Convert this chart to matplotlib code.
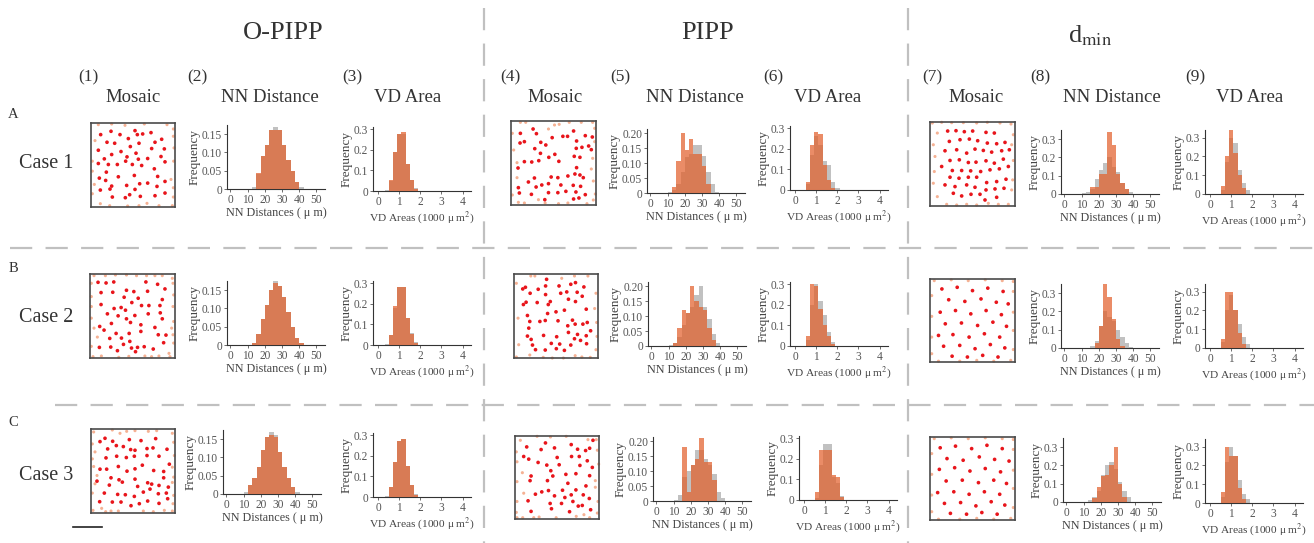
import matplotlib
matplotlib.use("Agg")
import matplotlib.pyplot as plt
from matplotlib.lines import Line2D

plt.rcParams['font.family'] = ['Liberation Serif', 'DejaVu Serif']
plt.rcParams['mathtext.fontset'] = 'stix'

W, H = 1314, 543
fig = plt.figure(figsize=(W / 100, H / 100), dpi=100)

# ---------------- data ----------------
group_titles = ["O-PIPP", "PIPP", r"d$_{\rm min}$"]
col_numbers = ["(1)", "(2)", "(3)", "(4)", "(5)", "(6)", "(7)", "(8)", "(9)"]
col_names = ["Mosaic", "NN Distance", "VD Area"] * 3
row_letters = ["A", "B", "C"]
row_cases = ["Case 1", "Case 2", "Case 3"]

nn_bin_left = [10.0, 12.5, 15.0, 17.5, 20.0, 22.5, 25.0, 27.5, 30.0, 32.5, 35.0, 37.5, 40.0]
nn_bin_width = 2.5
vd_bin_left = [0.3, 0.5, 0.7, 0.9, 1.1, 1.3, 1.5, 1.7, 1.9, 2.1]
vd_bin_width = 0.2

nn_xticks = [0, 10, 20, 30, 40, 50]
vd_xticks = [0, 1, 2, 3, 4]
nn_yticks_opipp = [0, 0.05, 0.10, 0.15]
nn_ylabels_opipp = ["0", "0.05", "0.10", "0.15"]
nn_yticks_pipp = [0, 0.05, 0.10, 0.15, 0.20]
nn_ylabels_pipp = ["0", "0.05", "0.10", "0.15", "0.20"]
nn_yticks_dmin = [0, 0.1, 0.2, 0.3]
nn_ylabels_dmin = ["0", "0.1", "0.2", "0.3"]
vd_yticks = [0, 0.1, 0.2, 0.3]
vd_ylabels = ["0", "0.1", "0.2", "0.3"]

# NN distance histograms (gray = reference, orange = simulated)
nn_gray_opipp_A = [0, 0.005, 0.04, 0.09, 0.12, 0.16, 0.17, 0.16, 0.12, 0.08, 0.05, 0.02, 0.005]
nn_orng_opipp_A = [0, 0, 0.045, 0.09, 0.12, 0.16, 0.16, 0.16, 0.12, 0.08, 0.05, 0.02, 0]
nn_gray_opipp_B = [0, 0.005, 0.03, 0.07, 0.11, 0.15, 0.175, 0.16, 0.13, 0.09, 0.05, 0.02, 0.005]
nn_orng_opipp_B = [0, 0.005, 0.03, 0.07, 0.11, 0.15, 0.17, 0.16, 0.13, 0.09, 0.05, 0.02, 0.005]
nn_gray_opipp_C = [0.005, 0.025, 0.045, 0.075, 0.12, 0.155, 0.17, 0.16, 0.115, 0.075, 0.045, 0.02, 0.005]
nn_orng_opipp_C = [0, 0.025, 0.045, 0.075, 0.12, 0.155, 0.16, 0.155, 0.115, 0.075, 0.045, 0.02, 0]

nn_gray_pipp_A = [0.005, 0.01, 0.03, 0.07, 0.12, 0.13, 0.16, 0.16, 0.125, 0.07, 0.03, 0.005, 0]
nn_orng_pipp_A = [0, 0.02, 0.108, 0.20, 0.143, 0.18, 0.13, 0.13, 0.09, 0.03, 0, 0, 0]
nn_gray_pipp_B = [0.005, 0.01, 0.03, 0.07, 0.11, 0.13, 0.17, 0.20, 0.13, 0.09, 0.04, 0.01, 0]
nn_orng_pipp_B = [0, 0.01, 0.06, 0.12, 0.11, 0.20, 0.15, 0.13, 0.12, 0.06, 0.02, 0, 0]
nn_gray_pipp_C = [0.005, 0.02, 0.08, 0.10, 0.12, 0.17, 0.17, 0.14, 0.12, 0.09, 0.03, 0.01, 0]
nn_orng_pipp_C = [0, 0, 0.18, 0.03, 0.12, 0.14, 0.21, 0.13, 0.13, 0.07, 0, 0, 0]

nn_gray_dmin_A = [0.005, 0.01, 0.03, 0.08, 0.13, 0.17, 0.20, 0.15, 0.12, 0.06, 0.03, 0.01, 0]
nn_orng_dmin_A = [0, 0, 0.04, 0.04, 0.11, 0.11, 0.34, 0.27, 0.11, 0.06, 0.03, 0, 0]
nn_gray_dmin_B = [0, 0, 0.01, 0.04, 0.12, 0.20, 0.17, 0.15, 0.10, 0.06, 0.03, 0.005, 0]
nn_orng_dmin_B = [0, 0, 0, 0.03, 0.12, 0.35, 0.28, 0.16, 0.05, 0.01, 0, 0, 0]
nn_gray_dmin_C = [0, 0.01, 0.03, 0.06, 0.15, 0.20, 0.22, 0.18, 0.11, 0.06, 0.03, 0, 0]
nn_orng_dmin_C = [0, 0, 0.02, 0.08, 0.14, 0.15, 0.20, 0.30, 0.10, 0.03, 0, 0, 0]

# VD area histograms
vd_gray_opipp_A = [0.005, 0.05, 0.19, 0.275, 0.275, 0.13, 0.055, 0.015, 0, 0]
vd_orng_opipp_A = [0, 0.055, 0.19, 0.275, 0.287, 0.13, 0.055, 0.01, 0, 0]
vd_gray_opipp_B = [0.005, 0.05, 0.18, 0.28, 0.28, 0.13, 0.06, 0.015, 0, 0]
vd_orng_opipp_B = [0, 0.05, 0.19, 0.28, 0.28, 0.13, 0.055, 0.01, 0, 0]
vd_gray_opipp_C = [0.005, 0.05, 0.17, 0.27, 0.28, 0.15, 0.06, 0.015, 0, 0]
vd_orng_opipp_C = [0, 0.05, 0.17, 0.27, 0.28, 0.15, 0.06, 0.01, 0, 0]

vd_gray_pipp_A = [0, 0.03, 0.17, 0.26, 0.22, 0.14, 0.12, 0.04, 0.01, 0]
vd_orng_pipp_A = [0, 0.04, 0.22, 0.28, 0.27, 0.12, 0.05, 0.01, 0, 0]
vd_gray_pipp_B = [0, 0.03, 0.20, 0.30, 0.22, 0.15, 0.07, 0.02, 0, 0]
vd_orng_pipp_B = [0, 0.05, 0.30, 0.29, 0.18, 0.10, 0.05, 0.01, 0, 0]
vd_gray_pipp_C = [0, 0.01, 0.17, 0.27, 0.27, 0.11, 0.08, 0.02, 0, 0]
vd_orng_pipp_C = [0, 0.04, 0.24, 0.24, 0.24, 0.12, 0.11, 0.015, 0, 0]

vd_gray_dmin_A = [0, 0.02, 0.17, 0.30, 0.27, 0.13, 0.06, 0.02, 0, 0]
vd_orng_dmin_A = [0, 0.04, 0.20, 0.34, 0.22, 0.10, 0.03, 0, 0, 0]
vd_gray_dmin_B = [0, 0.03, 0.20, 0.28, 0.20, 0.13, 0.06, 0.02, 0, 0]
vd_orng_dmin_B = [0, 0.05, 0.30, 0.30, 0.20, 0.08, 0.02, 0, 0, 0]
vd_gray_dmin_C = [0, 0.03, 0.22, 0.30, 0.25, 0.12, 0.05, 0.02, 0, 0]
vd_orng_dmin_C = [0, 0.06, 0.30, 0.25, 0.25, 0.08, 0.02, 0, 0, 0]

# Mosaic cell positions (read in picture units of each mosaic frame)
mos1_red_x = [47, 78, 105, 150, 157, 173, 198, 130, 230, 66, 89, 162, 210, 40, 108, 136, 200, 238, 80, 153, 58, 126, 160, 188, 228, 40, 97, 122, 142, 170, 240, 70, 64, 208, 43, 62, 100, 148, 218, 240, 80, 75, 125, 164, 188, 216, 46, 150, 240, 82, 121, 134, 166, 210]
mos1_red_y = [50, 40, 50, 38, 50, 48, 44, 62, 64, 73, 76, 76, 73, 97, 101, 86, 92, 93, 110, 106, 123, 117, 124, 122, 116, 137, 140, 130, 140, 143, 132, 140, 163, 153, 181, 188, 177, 173, 176, 191, 205, 214, 203, 198, 196, 206, 217, 215, 226, 238, 240, 231, 236, 234]
mos1_pale_x = [40, 80, 120, 178, 246, 265, 30, 22, 22, 28, 22, 265, 267, 266, 258, 265, 265, 46, 74, 128, 162, 186, 222, 262]
mos1_pale_y = [20, 18, 22, 18, 20, 33, 68, 130, 160, 200, 228, 55, 90, 130, 185, 210, 238, 258, 264, 265, 264, 257, 264, 264]

mos2_red_x = [40, 64, 87, 183, 218, 125, 147, 188, 240, 49, 84, 118, 160, 232, 49, 141, 170, 192, 225, 88, 109, 122, 68, 100, 150, 190, 226, 232, 125, 80, 137, 168, 210, 45, 58, 94, 133, 168, 220, 243, 75, 110, 135, 236, 116, 44, 78, 98, 140, 158, 178, 205, 152]
mos2_red_y = [42, 44, 41, 41, 48, 66, 70, 69, 62, 73, 72, 87, 90, 94, 109, 103, 112, 112, 112, 121, 118, 126, 137, 143, 142, 137, 134, 152, 152, 166, 163, 170, 178, 175, 186, 196, 196, 190, 200, 201, 211, 210, 220, 224, 229, 238, 237, 248, 240, 238, 236, 243, 251]
mos2_pale_x = [28, 62, 92, 125, 155, 185, 210, 232, 262, 20, 20, 20, 20, 28, 38, 20, 264, 266, 264, 266, 260, 264, 266, 252, 25, 50, 102, 132, 180, 200, 222, 255]
mos2_pale_y = [22, 22, 20, 20, 22, 22, 22, 22, 30, 45, 85, 115, 150, 180, 207, 235, 45, 80, 115, 160, 180, 200, 225, 256, 266, 264, 268, 265, 264, 266, 264, 266]

mos3_red_x = [45, 60, 83, 133, 168, 212, 68, 94, 115, 137, 150, 186, 204, 246, 63, 95, 124, 148, 186, 222, 253, 100, 172, 45, 65, 126, 150, 206, 236, 78, 102, 112, 150, 188, 200, 222, 236, 36, 73, 158, 250, 175, 195, 220, 244, 58, 98, 121, 148, 248, 44, 82, 108, 138, 163, 188, 222]
mos3_red_y = [53, 43, 52, 47, 50, 44, 75, 65, 68, 77, 79, 74, 72, 76, 102, 97, 101, 97, 95, 97, 121, 128, 124, 136, 136, 142, 135, 140, 143, 162, 168, 175, 166, 177, 181, 185, 162, 172, 184, 188, 190, 205, 196, 210, 208, 208, 212, 213, 218, 225, 234, 235, 235, 246, 240, 232, 239]
mos3_pale_x = [26, 82, 105, 125, 150, 190, 215, 262, 22, 30, 22, 26, 36, 30, 22, 266, 268, 262, 266, 262, 266, 264, 24, 50, 62, 78, 100, 175, 205, 238, 262]
mos3_pale_y = [24, 18, 28, 22, 20, 22, 20, 28, 60, 84, 105, 128, 155, 180, 208, 55, 95, 130, 160, 176, 215, 240, 260, 254, 264, 262, 262, 262, 264, 260, 262]

mos4_red_x = [46, 84, 94, 205, 58, 107, 122, 141, 173, 187, 240, 261, 45, 214, 89, 106, 213, 230, 250, 258, 131, 149, 58, 80, 101, 161, 207, 224, 39, 214, 138, 158, 188, 209, 224, 234, 88, 70, 93, 110, 130, 167, 204, 226, 40, 43, 79, 130, 158, 182, 212, 240, 119, 205, 221]
mos4_red_y = [55, 42, 56, 48, 80, 82, 90, 68, 64, 64, 62, 66, 84, 78, 101, 115, 100, 97, 93, 104, 127, 118, 140, 141, 137, 139, 124, 127, 159, 158, 186, 188, 183, 177, 180, 188, 189, 201, 216, 210, 206, 210, 211, 214, 218, 234, 238, 233, 233, 229, 231, 239, 254, 252, 249]
mos4_pale_x = [46, 62, 130, 148, 162, 192, 228, 262, 22, 26, 36, 36, 22, 40, 268, 268, 262, 258, 264, 270, 264, 58, 100, 120, 160, 188, 245]
mos4_pale_y = [22, 22, 42, 30, 28, 22, 22, 22, 55, 105, 143, 188, 240, 262, 40, 80, 130, 162, 198, 237, 255, 264, 254, 264, 266, 264, 266]

mos5_red_x = [125, 54, 62, 100, 122, 162, 197, 211, 236, 76, 122, 167, 185, 216, 231, 56, 64, 97, 130, 136, 190, 211, 153, 178, 243, 68, 128, 75, 105, 121, 159, 202, 210, 233, 246, 188, 72, 256, 190, 116, 68, 217, 243, 79, 155, 208, 226, 83, 139, 164, 197, 244, 92, 121, 154, 178]
mos5_red_y = [28, 57, 52, 58, 48, 48, 43, 38, 51, 70, 74, 70, 66, 67, 79, 104, 97, 98, 104, 95, 88, 95, 126, 121, 118, 137, 131, 155, 155, 152, 153, 151, 163, 163, 158, 168, 175, 183, 188, 197, 199, 194, 198, 209, 201, 207, 212, 226, 221, 223, 226, 222, 240, 241, 237, 242]
mos5_pale_x = [78, 90, 170, 208, 248, 35, 40, 42, 35, 272, 268, 274, 275, 272, 75, 115, 142, 175, 210, 230, 255]
mos5_pale_y = [18, 18, 25, 18, 18, 40, 145, 225, 262, 70, 116, 158, 200, 240, 256, 263, 265, 265, 258, 262, 263]

mos6_red_x = [113, 57, 100, 140, 190, 209, 233, 245, 255, 48, 63, 148, 191, 214, 238, 91, 117, 154, 216, 129, 253, 70, 135, 174, 204, 245, 67, 119, 180, 234, 102, 83, 122, 140, 164, 204, 171, 190, 226, 244, 61, 127, 161, 195, 211, 223, 131, 248, 70, 185]
mos6_red_y = [38, 50, 58, 53, 43, 57, 61, 54, 30, 79, 87, 82, 79, 79, 92, 97, 105, 104, 106, 122, 112, 138, 138, 133, 131, 137, 152, 152, 160, 168, 186, 193, 182, 198, 181, 180, 203, 195, 195, 206, 213, 221, 221, 215, 229, 227, 237, 240, 245, 246]
mos6_pale_x = [38, 88, 128, 175, 240, 265, 26, 28, 44, 28, 48, 28, 26, 268, 272, 262, 262, 270, 268, 28, 45, 78, 94, 145, 205, 228, 245]
mos6_pale_y = [30, 18, 20, 18, 28, 28, 65, 95, 128, 155, 190, 215, 248, 60, 102, 152, 172, 215, 250, 264, 264, 264, 262, 264, 260, 255, 264]

mos7_red_x = [143, 168, 193, 218, 258, 283, 148, 180, 208, 233, 262, 290, 315, 135, 170, 200, 225, 250, 275, 305, 328, 150, 178, 205, 228, 258, 283, 310, 125, 157, 185, 212, 242, 270, 298, 325, 150, 177, 205, 230, 260, 290, 318, 135, 165, 200, 225, 258, 285, 312, 160, 185, 213, 240, 290, 255]
mos7_red_y = [124, 123, 126, 124, 128, 130, 155, 150, 148, 153, 160, 162, 158, 183, 180, 190, 178, 182, 187, 183, 180, 212, 210, 218, 217, 213, 220, 208, 230, 242, 242, 243, 245, 240, 237, 230, 262, 265, 262, 262, 278, 275, 268, 285, 290, 285, 292, 300, 297, 295, 310, 318, 313, 313, 322, 330]
mos7_pale_x = [97, 125, 155, 190, 230, 262, 300, 333, 112, 100, 105, 103, 100, 112, 340, 335, 340, 338, 335, 140, 170, 200, 230, 265, 295, 325]
mos7_pale_y = [100, 98, 99, 99, 100, 98, 100, 103, 130, 165, 200, 245, 280, 320, 135, 165, 212, 270, 300, 343, 345, 343, 345, 340, 343, 343]

mos8_red_x = [14, 32, 50, 68, 86, 22, 41, 60, 78, 92, 12, 30, 48, 66, 84, 18, 37, 56, 74, 90, 10, 27, 46, 64, 82, 16, 35, 53, 71, 88, 26, 44, 62, 80]
mos8_red_y = [88, 90, 86, 89, 85, 75, 73, 76, 72, 70, 60, 62, 58, 62, 57, 46, 47, 44, 48, 43, 32, 33, 30, 34, 30, 19, 20, 16, 21, 17, 7, 6, 8, 6]
mos8_pale_x = [5, 25, 45, 65, 85, 98, 2, 2, 2, 2, 98, 98, 98, 98, 10, 35, 55, 75, 95]
mos8_pale_y = [98, 99, 98, 99, 98, 97, 80, 55, 30, 10, 85, 60, 38, 15, 1, 1, 2, 1, 2]

mos9_red_x = [12, 30, 49, 67, 85, 20, 39, 58, 76, 93, 11, 29, 47, 65, 83, 19, 38, 57, 75, 90, 9, 28, 46, 64, 82, 17, 36, 54, 72, 88, 24, 43, 61, 79]
mos9_red_y = [87, 89, 86, 90, 86, 74, 72, 76, 73, 71, 61, 63, 59, 62, 58, 47, 48, 45, 48, 44, 33, 34, 31, 34, 31, 20, 21, 17, 22, 18, 8, 7, 9, 7]
mos9_pale_x = [5, 25, 45, 65, 85, 98, 2, 2, 2, 2, 98, 98, 98, 98, 10, 35, 55, 75, 95]
mos9_pale_y = [98, 99, 98, 99, 98, 97, 80, 55, 30, 10, 85, 60, 38, 15, 1, 1, 2, 1, 2]

# ---------------- layout helpers ----------------
def px_ax(l, t, r, b):
    return fig.add_axes([l / W, 1 - b / H, (r - l) / W, (b - t) / H])

def ftext(x, y, s, **kw):
    fig.text(x / W, 1 - y / H, s, **kw)

TXT = "#333333"
GRAY = "#8f8f8f"
ORNG = "#e2602c"

def draw_mosaic(frame, limits, rx, ry, px, py):
    l, t, r, b = frame
    ax = px_ax(l, t, r, b)
    x0, x1, y0, y1 = limits
    ax.set_xlim(x0, x1)
    ax.set_ylim(y1, y0)
    ax.scatter(px, py, s=5, color="#f5b193", edgecolors="none", clip_on=False, zorder=2)
    ax.scatter(rx, ry, s=7, color="#e8151b", edgecolors="none", clip_on=False, zorder=3)
    ax.set_xticks([]); ax.set_yticks([])
    for sp in ax.spines.values():
        sp.set_color("#4a4a4a"); sp.set_linewidth(1.2)

def draw_hist(left, bottom, kind, gray, orng, ymax, yticks, ylabels):
    width = 98
    height = 64
    ax = px_ax(left, bottom - height, left + width, bottom)
    if kind == "nn":
        bins, bw = nn_bin_left, nn_bin_width
        ax.set_xlim(-2, 55)
        ax.set_xticks(nn_xticks)
        ax.set_xlabel("NN Distances ( \u03bc m)", fontsize=8.7, color="#444444", labelpad=1)
    else:
        bins, bw = vd_bin_left, vd_bin_width
        ax.set_xlim(-0.25, 4.4)
        ax.set_xticks(vd_xticks)
        ax.set_xlabel("VD Areas (1000 \u03bc m$^{2}$)", fontsize=8.2, color="#444444", labelpad=1)
    ax.bar(bins, gray, width=bw, align="edge", color=GRAY, alpha=0.55, linewidth=0, zorder=2)
    ax.bar(bins, orng, width=bw, align="edge", color=ORNG, alpha=0.72, linewidth=0, zorder=3)
    ax.set_ylim(0, ymax)
    ax.set_yticks(yticks)
    ax.set_yticklabels(ylabels)
    ax.set_ylabel("Frequency", fontsize=9.5, color="#444444", labelpad=1)
    for s in ("top", "right"):
        ax.spines[s].set_visible(False)
    for s in ("left", "bottom"):
        ax.spines[s].set_color("#333333"); ax.spines[s].set_linewidth(0.8)
    ax.tick_params(axis="both", labelsize=8.3, colors="#555555", length=2, width=0.6, pad=1.5)
    ax.set_facecolor("none")
    return ax

# ---------------- headers ----------------
ftext(283, 33, group_titles[0], fontsize=19, color=TXT, ha="center", va="center")
ftext(708, 33, group_titles[1], fontsize=19, color=TXT, ha="center", va="center")
ftext(1090, 36, group_titles[2], fontsize=19, color=TXT, ha="center", va="center")

num_x = [88, 197, 352, 510, 620, 773, 932, 1040, 1195]
name_x = [133, 270, 408, 555, 695, 828, 976, 1112, 1250]
for i in range(9):
    ftext(num_x[i], 77, col_numbers[i], fontsize=12.5, color=TXT, ha="center", va="center")
    ftext(name_x[i], 97, col_names[i], fontsize=13.5, color=TXT, ha="center", va="center")

letter_y = [115, 268, 422]
case_y = [163, 318, 475]
for i in range(3):
    ftext(13, letter_y[i], row_letters[i], fontsize=10.5, color=TXT, ha="center", va="center")
    ftext(46, case_y[i], row_cases[i], fontsize=14.5, color=TXT, ha="center", va="center")

# dashed separators
dash_kw = dict(color="#c0c0c0", linewidth=1.6, dashes=(10, 6))
for x in (484, 908):
    fig.add_artist(Line2D([x / W, x / W], [1 - 8 / H, 0], transform=fig.transFigure, **dash_kw))
fig.add_artist(Line2D([10 / W, 1], [1 - 248 / H, 1 - 248 / H], transform=fig.transFigure, **dash_kw))
fig.add_artist(Line2D([55 / W, 1], [1 - 405 / H, 1 - 405 / H], transform=fig.transFigure, **dash_kw))

# scale bar
fig.add_artist(Line2D([73 / W, 102 / W], [1 - 527 / H, 1 - 527 / H], transform=fig.transFigure,
                      color="#222222", linewidth=1.2))

# ---------------- mosaics ----------------
draw_mosaic((91, 123, 175, 207), (18, 270, 15, 268), mos1_red_x, mos1_red_y, mos1_pale_x, mos1_pale_y)
draw_mosaic((90, 274, 175, 358), (16, 270, 17, 270), mos2_red_x, mos2_red_y, mos2_pale_x, mos2_pale_y)
draw_mosaic((91, 429, 175, 513), (18, 270, 15, 268), mos3_red_x, mos3_red_y, mos3_pale_x, mos3_pale_y)
draw_mosaic((511, 121, 596, 205), (18, 272, 18, 270), mos4_red_x, mos4_red_y, mos4_pale_x, mos4_pale_y)
draw_mosaic((514, 274, 598, 358), (28, 278, 12, 265), mos5_red_x, mos5_red_y, mos5_pale_x, mos5_pale_y)
draw_mosaic((515, 436, 599, 519), (22, 273, 17, 268), mos6_red_x, mos6_red_y, mos6_pale_x, mos6_pale_y)
draw_mosaic((930, 122, 1015, 206), (90, 345, 97, 348), mos7_red_x, mos7_red_y, mos7_pale_x, mos7_pale_y)
draw_mosaic((930, 279, 1015, 362), (0, 100, 100, 0), mos8_red_x, mos8_red_y, mos8_pale_x, mos8_pale_y)
draw_mosaic((930, 437, 1015, 520), (0, 100, 100, 0), mos9_red_x, mos9_red_y, mos9_pale_x, mos9_pale_y)

# ---------------- histograms ----------------
# row A
draw_hist(227, 189, "nn", nn_gray_opipp_A, nn_orng_opipp_A, 0.175, nn_yticks_opipp, nn_ylabels_opipp)
draw_hist(373, 191, "vd", vd_gray_opipp_A, vd_orng_opipp_A, 0.31, vd_yticks, vd_ylabels)
draw_hist(647, 193, "nn", nn_gray_pipp_A, nn_orng_pipp_A, 0.215, nn_yticks_pipp, nn_ylabels_pipp)
draw_hist(790, 190, "vd", vd_gray_pipp_A, vd_orng_pipp_A, 0.31, vd_yticks, vd_ylabels)
draw_hist(1061, 194, "nn", nn_gray_dmin_A, nn_orng_dmin_A, 0.35, nn_yticks_dmin, nn_ylabels_dmin)
draw_hist(1205, 194, "vd", vd_gray_dmin_A, vd_orng_dmin_A, 0.34, vd_yticks, vd_ylabels)
# row B
draw_hist(227, 345, "nn", nn_gray_opipp_B, nn_orng_opipp_B, 0.175, nn_yticks_opipp, nn_ylabels_opipp)
draw_hist(373, 345, "vd", vd_gray_opipp_B, vd_orng_opipp_B, 0.31, vd_yticks, vd_ylabels)
draw_hist(648, 346, "nn", nn_gray_pipp_B, nn_orng_pipp_B, 0.215, nn_yticks_pipp, nn_ylabels_pipp)
draw_hist(790, 346, "vd", vd_gray_pipp_B, vd_orng_pipp_B, 0.31, vd_yticks, vd_ylabels)
draw_hist(1061, 348, "nn", nn_gray_dmin_B, nn_orng_dmin_B, 0.35, nn_yticks_dmin, nn_ylabels_dmin)
draw_hist(1205, 348, "vd", vd_gray_dmin_B, vd_orng_dmin_B, 0.34, vd_yticks, vd_ylabels)
# row C
draw_hist(223, 494, "nn", nn_gray_opipp_C, nn_orng_opipp_C, 0.175, nn_yticks_opipp, nn_ylabels_opipp)
draw_hist(373, 497, "vd", vd_gray_opipp_C, vd_orng_opipp_C, 0.31, vd_yticks, vd_ylabels)
draw_hist(653, 501, "nn", nn_gray_pipp_C, nn_orng_pipp_C, 0.215, nn_yticks_pipp, nn_ylabels_pipp)
draw_hist(799, 500, "vd", vd_gray_pipp_C, vd_orng_pipp_C, 0.31, vd_yticks, vd_ylabels)
draw_hist(1063, 502, "nn", nn_gray_dmin_C, nn_orng_dmin_C, 0.35, nn_yticks_dmin, nn_ylabels_dmin)
draw_hist(1205, 503, "vd", vd_gray_dmin_C, vd_orng_dmin_C, 0.34, vd_yticks, vd_ylabels)

fig.savefig("out.png", dpi=100, facecolor="white")
